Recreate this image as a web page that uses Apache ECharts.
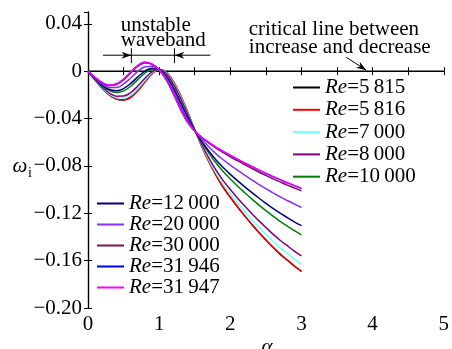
<!DOCTYPE html>
<html><head><meta charset="utf-8">
<script src="https://cdn.jsdelivr.net/npm/echarts/dist/echarts.min.js"></script>
<style>html,body{margin:0;padding:0;background:#fff}#c{width:452px;height:349px}</style>
</head><body><div id="c"></div>
<script>
const alpha = [0,0.1,0.2,0.3,0.4,0.5,0.6,0.7,0.8,0.9,1.0,1.1,1.2,1.3,1.4,1.5,1.6,1.7,1.8,1.9,2.0,2.1,2.2,2.3,2.4,2.5,2.6,2.7,2.8,2.9,3.0];
const re5815 = [0,-0.0075,-0.0145,-0.0200,-0.0235,-0.0243,-0.0220,-0.0165,-0.0090,-0.0020,0.0015,-0.0010,-0.0090,-0.0205,-0.0345,-0.0495,-0.0635,-0.0765,-0.0880,-0.0980,-0.1065,-0.1145,-0.1220,-0.1292,-0.1360,-0.1425,-0.1487,-0.1545,-0.1595,-0.1645,-0.1690];
const re5816 = [0,-0.0075,-0.0145,-0.0200,-0.0235,-0.0243,-0.0220,-0.0165,-0.0090,-0.0020,0.0015,-0.0010,-0.0090,-0.0205,-0.0345,-0.0495,-0.0635,-0.0765,-0.0880,-0.0980,-0.1065,-0.1145,-0.1220,-0.1292,-0.1360,-0.1425,-0.1487,-0.1545,-0.1595,-0.1645,-0.1690];
const re7000 = [0,-0.0073,-0.0141,-0.0193,-0.0224,-0.0228,-0.0202,-0.0147,-0.0076,-0.0013,0.0015,-0.0015,-0.0099,-0.0215,-0.0352,-0.0496,-0.0629,-0.0751,-0.0860,-0.0954,-0.1035,-0.1111,-0.1182,-0.1250,-0.1315,-0.1377,-0.1436,-0.1491,-0.1539,-0.1587,-0.1630];
const re8000 = [0,-0.0071,-0.0136,-0.0185,-0.0211,-0.0210,-0.0181,-0.0125,-0.0059,-0.0005,0.0014,-0.0022,-0.0109,-0.0226,-0.0361,-0.0497,-0.0621,-0.0735,-0.0836,-0.0924,-0.0999,-0.1070,-0.1137,-0.1201,-0.1262,-0.1320,-0.1376,-0.1428,-0.1474,-0.1519,-0.1560];
const re10000 = [0,-0.0066,-0.0124,-0.0164,-0.0179,-0.0166,-0.0127,-0.0071,-0.0017,0.0015,0.0013,-0.0037,-0.0134,-0.0256,-0.0382,-0.0499,-0.0602,-0.0694,-0.0776,-0.0847,-0.0910,-0.0969,-0.1024,-0.1078,-0.1129,-0.1178,-0.1224,-0.1268,-0.1308,-0.1346,-0.1382];
const re12000 = [0,-0.0064,-0.0119,-0.0155,-0.0165,-0.0147,-0.0103,-0.0048,0.0001,0.0024,0.0012,-0.0044,-0.0145,-0.0268,-0.0392,-0.0501,-0.0594,-0.0676,-0.0750,-0.0814,-0.0871,-0.0924,-0.0975,-0.1024,-0.1071,-0.1116,-0.1159,-0.1199,-0.1236,-0.1272,-0.1305];
const re20000 = [0,-0.0060,-0.0109,-0.0137,-0.0137,-0.0108,-0.0057,-0.0001,0.0037,0.0042,0.0011,-0.0058,-0.0167,-0.0294,-0.0411,-0.0503,-0.0577,-0.0640,-0.0698,-0.0748,-0.0793,-0.0836,-0.0877,-0.0917,-0.0956,-0.0992,-0.1027,-0.1061,-0.1092,-0.1122,-0.1151];
const re30000 = [0,-0.0056,-0.0099,-0.0121,-0.0112,-0.0073,-0.0014,0.0042,0.0070,0.0058,0.0010,-0.0070,-0.0187,-0.0317,-0.0428,-0.0505,-0.0562,-0.0608,-0.0650,-0.0687,-0.0723,-0.0756,-0.0788,-0.0820,-0.0851,-0.0880,-0.0908,-0.0935,-0.0962,-0.0986,-0.1011];
const re31946 = [0,-0.0055,-0.0098,-0.0118,-0.0108,-0.0068,-0.0008,0.0048,0.0075,0.0060,0.0010,-0.0072,-0.0190,-0.0320,-0.0430,-0.0505,-0.0560,-0.0603,-0.0643,-0.0678,-0.0712,-0.0744,-0.0775,-0.0805,-0.0835,-0.0863,-0.0890,-0.0916,-0.0942,-0.0966,-0.0990];
const re31947 = [0,-0.0055,-0.0098,-0.0118,-0.0108,-0.0068,-0.0008,0.0048,0.0075,0.0060,0.0010,-0.0072,-0.0190,-0.0320,-0.0430,-0.0505,-0.0560,-0.0603,-0.0643,-0.0678,-0.0712,-0.0744,-0.0775,-0.0805,-0.0835,-0.0863,-0.0890,-0.0916,-0.0942,-0.0966,-0.0990];
const zeroLineX = [0, 5];
const zeroLineY = [0, 0];
const xTickLabels = ['0','1','2','3','4','5'];
const legendA = ['5\u2009815','5\u2009816','7\u2009000','8\u2009000','10\u2009000'];
const legendB = ['12\u2009000','20\u2009000','30\u2009000','31\u2009946','31\u2009947'];

const FF = '"Liberation Serif", "Times New Roman", serif';
const chart = echarts.init(document.getElementById('c'), null, {renderer:'canvas'});

const seriesDefs = [
  [legendA[0], re5815, '#000000'],
  [legendA[1], re5816, '#ff0000'],
  [legendA[2], re7000, '#70ffff'],
  [legendA[3], re8000, '#800080'],
  [legendA[4], re10000, '#008000'],
  [legendB[0], re12000, '#000080'],
  [legendB[1], re20000, '#8b2cff'],
  [legendB[2], re30000, '#7f0f5f'],
  [legendB[3], re31946, '#0000ff'],
  [legendB[4], re31947, '#ff00ff']
];

const series = [{
  name: 'zero', type: 'line', symbol: 'none', silent: true, z: 1,
  data: zeroLineX.map((x, i) => [x, zeroLineY[i]]),
  lineStyle: {color: '#000', width: 1.2}
}].concat(seriesDefs.map(([n, v, c]) => ({
  name: n, type: 'line', symbol: 'none', smooth: 0.35, silent: true, z: 3,
  data: alpha.map((a, i) => [a, v[i]]),
  itemStyle: {color: c},
  lineStyle: {color: c, width: 1.5}
})));

const rich = {
  i: {fontFamily: FF, fontStyle: 'italic', fontSize: 21, color: '#000', lineHeight: 20},
  n: {fontFamily: FF, fontSize: 21, color: '#000', lineHeight: 20}
};
const legendBase = {
  orient: 'vertical', icon: 'rect', itemWidth: 27, itemHeight: 2,
  selectedMode: false, padding: 0,
  formatter: n => '{i|Re}{n|=' + n + '}',
  textStyle: {rich: rich, padding: [0, 0, 0, 0]}
};

const axisCommon = {
  axisLine: {show: true, lineStyle: {color: '#000', width: 1.2}},
  splitLine: {show: false}
};

const yFmt = v => Math.abs(v) < 1e-9 ? '0' : (v < 0 ? '\u2212' : '') + Math.abs(v).toFixed(2);

const option = {
  animation: false,
  backgroundColor: '#fff',
  grid: {left: 88, right: 6, top: 12, bottom: 41},
  xAxis: [
    Object.assign({type: 'value', min: 0, max: 5, interval: 0.5, position: 'bottom',
      axisTick: {inside: true, length: 4, lineStyle: {color: '#000'}},
      axisLabel: {margin: 6, fontFamily: FF, fontSize: 21, color: '#000',
        formatter: v => Math.abs(v - Math.round(v)) < 1e-9 ? xTickLabels[Math.round(v)] : ''}}, axisCommon),
    Object.assign({type: 'value', min: 0, max: 5, interval: 0.5, position: 'top',
      axisTick: {inside: true, length: 4, lineStyle: {color: '#000'}},
      axisLabel: {show: false}}, axisCommon)
  ],
  yAxis: [
    Object.assign({type: 'value', min: -0.2, max: 0.05, interval: 0.04, position: 'left',
      axisTick: {inside: true, length: 4, lineStyle: {color: '#000'}},
      axisLabel: {margin: 6, fontFamily: FF, fontSize: 21, color: '#000', formatter: yFmt, showMaxLabel: false}}, axisCommon),
    Object.assign({type: 'value', min: -0.2, max: 0.05, interval: 0.04, position: 'right',
      axisTick: {inside: true, length: 4, lineStyle: {color: '#000'}},
      axisLabel: {show: false}}, axisCommon)
  ],
  legend: [
    Object.assign({data: legendA, left: 293, top: 77, itemGap: 1.3}, legendBase),
    Object.assign({data: legendB, left: 97, top: 193, itemGap: 0}, legendBase)
  ],
  series: series
};
chart.setOption(option);

// annotations, positioned in data space
const P = (a, w) => chart.convertToPixel({xAxisIndex: 0, yAxisIndex: 0}, [a, w]);
const bandW = 0.0135, bandStart = 0.21, bandL = 0.61, bandR = 1.215, bandEnd = 1.72, barTop = 0.0194, barBot = 0.0068;
const critFrom = [3.63, 0.0118], critTo = [3.91, 0.0008];

function arrowHead(tip, dir) {
  const len = 10, hw = 3.5, notch = 7;
  const ux = dir[0], uy = dir[1], px = -uy, py = ux;
  return [
    [tip[0], tip[1]],
    [tip[0] - ux * len + px * hw, tip[1] - uy * len + py * hw],
    [tip[0] - ux * notch, tip[1] - uy * notch],
    [tip[0] - ux * len - px * hw, tip[1] - uy * len - py * hw]
  ];
}
const g = [];
const ln = (a, b, w) => g.push({type: 'line', silent: true, z: 10, shape: {x1: a[0], y1: a[1], x2: b[0], y2: b[1]}, style: {stroke: '#000', lineWidth: w || 1}});
const s0 = P(bandStart, bandW), sL = P(bandL, bandW), sR = P(bandR, bandW), sE = P(bandEnd, bandW);
ln(s0, sL); ln(sL, sR); ln(sR, sE);
ln(P(bandL, barTop), P(bandL, barBot)); ln(P(bandR, barTop), P(bandR, barBot));
g.push({type: 'polygon', silent: true, z: 10, shape: {points: arrowHead(sL, [1, 0])}, style: {fill: '#000'}});
g.push({type: 'polygon', silent: true, z: 10, shape: {points: arrowHead(sR, [-1, 0])}, style: {fill: '#000'}});
const cf = P(critFrom[0], critFrom[1]), ct = P(critTo[0], critTo[1]);
ln(cf, ct);
const dl = Math.hypot(ct[0] - cf[0], ct[1] - cf[1]);
g.push({type: 'polygon', silent: true, z: 10, shape: {points: arrowHead(ct, [(ct[0] - cf[0]) / dl, (ct[1] - cf[1]) / dl])}, style: {fill: '#000'}});
const txt = (t, x, y, font, align) => g.push({type: 'text', silent: true, z: 10, style: {text: t, x: x, y: y, font: font, fill: '#000', align: align || 'left', verticalAlign: 'middle'}});
const F21 = '21px ' + FF, I21 = 'italic 21px ' + FF;
let q = P(0.46, 0.0388); txt('unstable', q[0], q[1], F21);
q = P(0.46, 0.0262); txt('waveband', q[0], q[1], F21);
q = P(2.26, 0.0354); txt('critical line between', q[0], q[1], F21);
q = P(2.26, 0.0198); txt('increase and decrease', q[0], q[1], F21);
txt('\u03c9', 20, 166, I21, 'center');
txt('i', 30, 173, '14px ' + FF, 'center');
txt('\u03b1', 267, 347, I21, 'center');
chart.setOption({graphic: g});
</script>
</body></html>
